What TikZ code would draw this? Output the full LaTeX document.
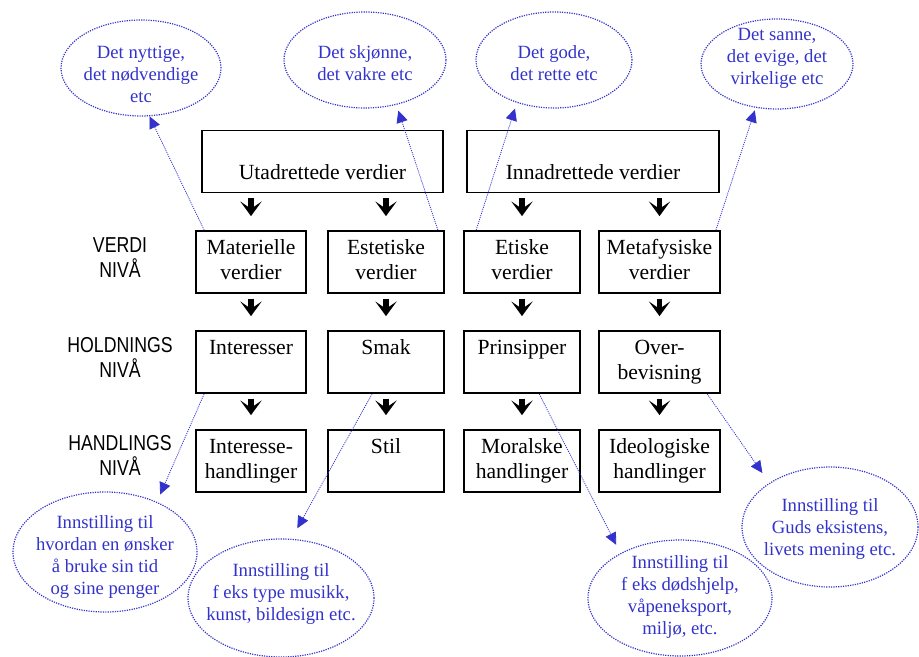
\documentclass[tikz,border=0pt]{standalone}
\usepackage{fontspec}
\setmainfont{Liberation Serif}
\newfontfamily\levelfont[FakeStretch=0.82]{Liberation Sans}
\usepackage{tikz}
\usetikzlibrary{shapes,arrows.meta,positioning,calc}
\definecolor{noteblue}{RGB}{51,51,204}

\begin{document}
\begin{tikzpicture}[x=0.75pt,y=-0.75pt,
    boks/.style={draw, line width=1.3pt, align=center, inner sep=0pt,
        minimum height=46.5pt, font=\fontsize{16.2pt}{18.75pt}\selectfont},
    niva/.style={align=center, font=\levelfont\fontsize{16.2pt}{18.75pt}\selectfont},
    boble/.style={ellipse, draw=noteblue, dash pattern=on 0.9pt off 0.9pt, line width=0.9pt, inner sep=0pt},
    bobletekst/.style={align=center, text=noteblue, font=\fontsize{14pt}{16.5pt}\selectfont},
    pil/.style={line width=4pt, shorten <=3.5pt, shorten >=10.5pt,
        -{Stealth[length=11pt,width=16pt,inset=5.5pt]}},
    hint/.style={noteblue, dash pattern=on 0.8pt off 0.8pt, line width=0.6pt,
        -{Triangle[length=9pt,width=8.5pt]}}]
    \useasboundingbox (0,0) rectangle (919,656);

    % Verdier
    \node[boks, minimum width=180.75pt] (utad) at (322.5,161.5) {\strut\\Utadrettede verdier\strut};
    \node[boks, minimum width=189pt] (innad) at (593,161.5) {\strut\\Innadrettede verdier\strut};

    % Nivaaer
    \node[niva] (verdi) at (120,257.5) {VERDI\\NIVÅ};
    \node[niva] (holdning) at (120,357.5) {HOLDNINGS\\NIVÅ};
    \node[niva] (handling) at (120,455.5) {HANDLINGS\\NIVÅ};

    \node[boks, minimum width=82.5pt] (mat) at (251,262) {\strut Materielle\\verdier\strut};
    \node[boks, minimum width=87pt] (est) at (386,262) {\strut Estetiske\\verdier\strut};
    \node[boks, minimum width=87pt] (eti) at (522,262) {\strut Etiske\\verdier\strut};
    \node[boks, minimum width=90.75pt] (meta) at (659.5,262) {\strut Metafysiske\\verdier\strut};

    \node[boks, minimum width=82.5pt] (int) at (251,362) {\strut Interesser\\\strut};
    \node[boks, minimum width=87pt] (smak) at (386,362) {\strut Smak\\\strut};
    \node[boks, minimum width=87pt] (prin) at (522,362) {\strut Prinsipper\\\strut};
    \node[boks, minimum width=90.75pt] (over) at (659.5,362) {\strut Over-\\bevisning\strut};

    \node[boks, minimum width=82.5pt] (ihand) at (251,461) {\strut Interesse-\\handlinger\strut};
    \node[boks, minimum width=87pt] (stil) at (386,461) {\strut Stil\\\strut};
    \node[boks, minimum width=87pt] (moral) at (522,461) {\strut Moralske\\handlinger\strut};
    \node[boks, minimum width=90.75pt] (ideo) at (659.5,461) {\strut Ideologiske\\handlinger\strut};

    \draw[pil] (utad.south -| mat.north) -- (mat.north);
    \draw[pil] (utad.south -| est.north) -- (est.north);
    \draw[pil] (innad.south -| eti.north) -- (eti.north);
    \draw[pil] (innad.south -| meta.north) -- (meta.north);
    \foreach \a/\b in {mat/int, est/smak, eti/prin, meta/over,
                       int/ihand, smak/stil, prin/moral, over/ideo}
        \draw[pil] (\a) -- (\b);

    % Bobler
    \node[boble, minimum width=120pt, minimum height=72pt] (e1) at (141,68) {};
    \node[bobletekst] (t1) at (141,74) {Det nyttige,\\det nødvendige\\etc};
    \node[boble, minimum width=121.5pt, minimum height=72pt] (e2) at (365,60) {};
    \node[bobletekst] (t2) at (365,63) {Det skjønne,\\det vakre etc};
    \node[boble, minimum width=117pt, minimum height=72pt] (e3) at (554,60) {};
    \node[bobletekst] (t3) at (554,63) {Det gode,\\det rette etc};
    \node[boble, minimum width=114pt, minimum height=67.5pt] (e4) at (777,64) {};
    \node[bobletekst] (t4) at (777,58) {Det sanne,\\det evige, det\\virkelige etc};

    \node[boble, minimum width=138pt, minimum height=90pt] (e5) at (105,552) {};
    \node[bobletekst] (t5) at (105,557) {Innstilling til\\hvordan en ønsker\\å bruke sin tid\\og sine penger};
    \node[boble, minimum width=139.5pt, minimum height=88.5pt] (e6) at (281,598) {};
    \node[bobletekst] (t6) at (281,594) {Innstilling til\\f eks type musikk,\\kunst, bildesign etc.};
    \node[boble, minimum width=138pt, minimum height=87pt] (e7) at (680,598) {};
    \node[bobletekst] (t7) at (680,597) {Innstilling til\\f eks dødshjelp,\\våpeneksport,\\miljø, etc.};
    \node[boble, minimum width=132pt, minimum height=90pt] (e8) at (830,527) {};
    \node[bobletekst] (t8) at (830,529) {Innstilling til\\Guds eksistens,\\livets mening etc.};

    \draw[hint] ($(mat.north west)+(9,0)$) -- (e1.-80);
    \draw[hint, shorten >=4.5pt] ($(est.north east)+(-7,0)$) -- (e2.-55);
    \draw[hint, shorten >=4.5pt] ($(eti.north west)+(13,0)$) -- (e3.-131);
    \draw[hint, shorten >=2pt] ($(meta.north east)+(-5,0)$) -- (e4.-116);
    \draw[hint, shorten >=6pt] ($(int.south west)+(9,0)$) -- (e5.44);
    \draw[hint, shorten >=9pt] ($(smak.south west)+(45,0)$) -- (e6.80);
    \draw[hint, shorten >=7pt] ($(prin.south west)+(76,0)$) -- (e7.143);
    \draw[hint, shorten >=9pt] ($(over.south west)+(109,0)$) -- (e8.144);
\end{tikzpicture}
\end{document}
